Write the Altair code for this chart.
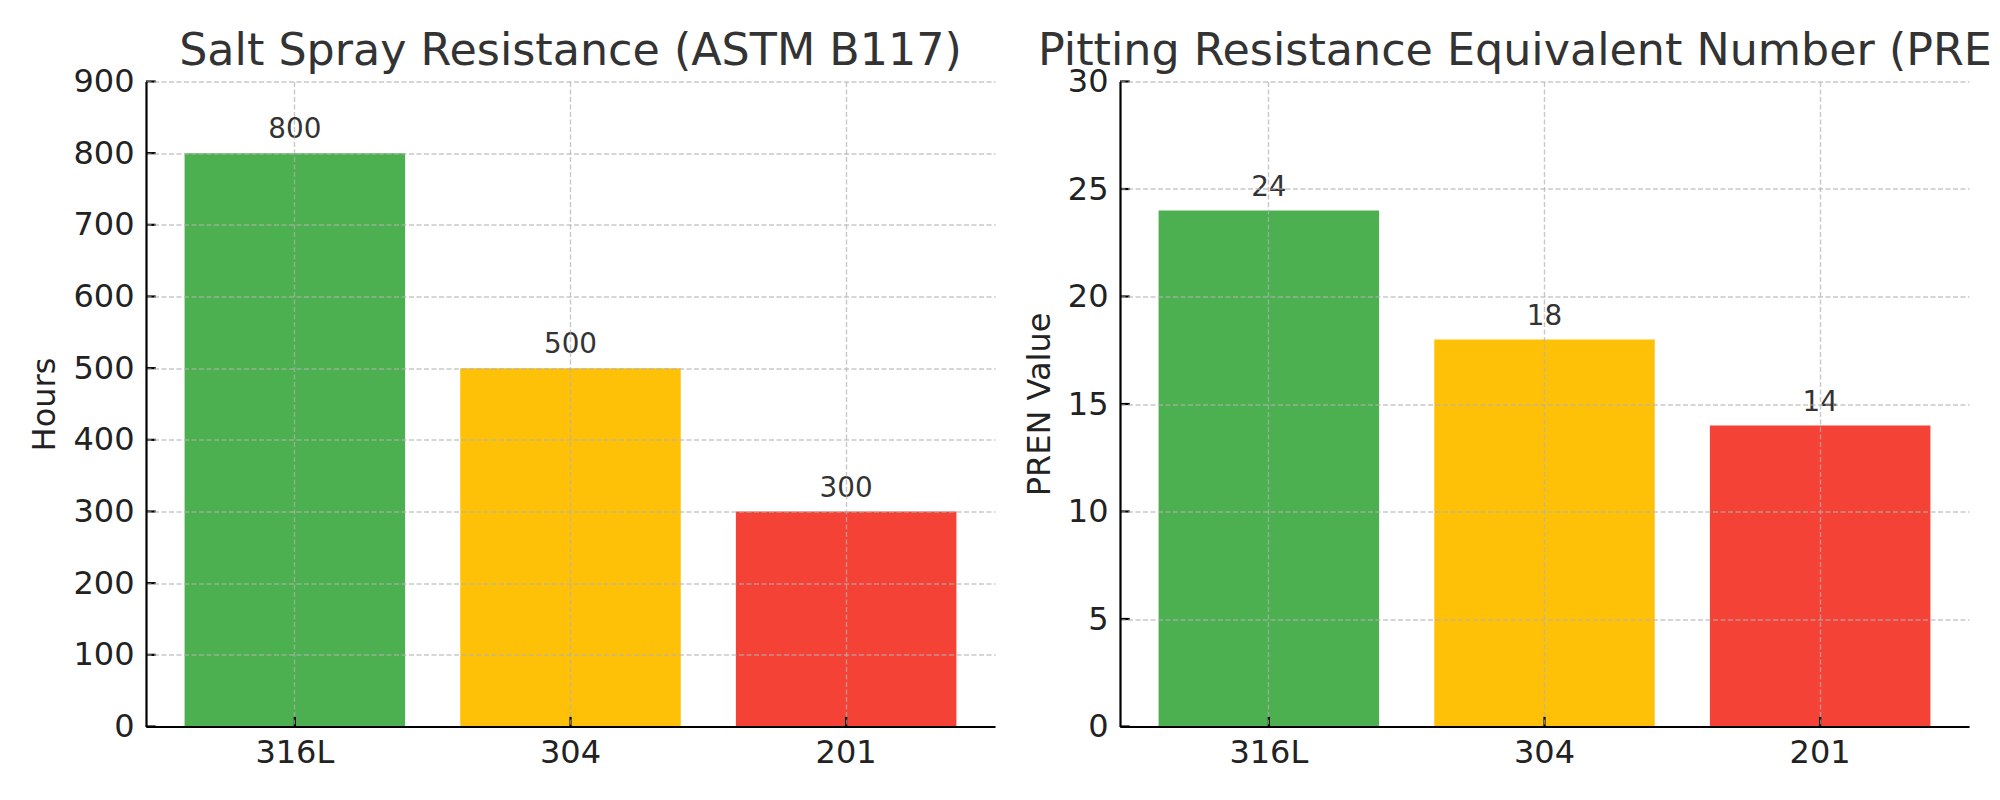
import altair as alt
import pandas as pd

# ---- data ----
materials = ["316L", "304", "201"]
salt_hours = [800, 500, 300]
pren_values = [24, 18, 14]
bar_colors = ["#4CAF50", "#FFC107", "#F44336"]
hours_ticks = [0, 100, 200, 300, 400, 500, 600, 700, 800, 900]
pren_ticks = [0, 5, 10, 15, 20, 25, 30]
title_left = "Salt Spray Resistance (ASTM B117)"
title_right = "Pitting Resistance Equivalent Number (PREN)"
ytitle_left = "Hours"
ytitle_right = "PREN Value"

W, H = 849, 645
FONT = "DejaVu Sans"
TICK_LEN = 9.7
LINE_W = 2.2


def panel(values, ticks, ymax, ytitle, title, title_x, title_align, title_limit):
    df = pd.DataFrame({"Material": materials, "Value": values, "Color": bar_colors})
    tick_df = pd.DataFrame({"Value": ticks})

    x = alt.X(
        "Material:N",
        sort=materials,
        scale=alt.Scale(paddingInner=0.2, paddingOuter=0.14),
        axis=alt.Axis(title=None, labelAngle=0, grid=True, ticks=False, tickSize=0,
                      bandPosition=0.5, labelPadding=10.5, zindex=1),
    )
    y = alt.Y(
        "Value:Q",
        scale=alt.Scale(domain=[0, ymax], nice=False, zero=True),
        axis=alt.Axis(values=ticks, title=ytitle, grid=True, ticks=False, tickSize=0,
                      labelPadding=12, titlePadding=11, zindex=1),
    )
    base = alt.Chart(df)
    bars = base.mark_bar().encode(x=x, y=y, color=alt.Color("Color:N", scale=None))
    labels = base.mark_text(
        baseline="alphabetic", dy=-14.7, fontSize=27.8, color="#333333", font=FONT
    ).encode(x=x, y=y, text=alt.Text("Value:Q"))
    ytick = alt.Chart(tick_df).mark_rule(color="black", strokeWidth=LINE_W).encode(
        y=y, x=alt.value(0), x2=alt.value(TICK_LEN)
    )
    xtick = base.mark_rule(color="black", strokeWidth=LINE_W).encode(
        x=x, y=alt.value(H), y2=alt.value(H - TICK_LEN)
    )
    ttl = alt.Chart(pd.DataFrame({"t": [title]})).mark_text(
        align=title_align, baseline="alphabetic", fontSize=44.4, color="#333333",
        font=FONT, limit=title_limit, ellipsis="\u200b"
    ).encode(text="t:N", x=alt.value(title_x), y=alt.value(-17))
    return alt.layer(bars, xtick, ytick, labels, ttl).properties(width=W, height=H)


left = panel(salt_hours, hours_ticks, 900, ytitle_left, title_left, W / 2, "center", 2000)
right = panel(pren_values, pren_ticks, 30, ytitle_right, title_right, -82, "left", 958)

chart = (
    alt.hconcat(left, right, spacing=125, bounds="flush")
    .properties(padding={"left": 20, "top": 20.5, "right": 0, "bottom": 5})
    .configure_view(stroke=None)
    .configure_axis(
        labelFont=FONT, labelFontSize=32, labelColor="#222222",
        titleFont=FONT, titleFontSize=32, titleColor="#222222", titleFontWeight="normal",
        domainColor="black", domainWidth=LINE_W,
        gridColor="#b0b0b0", gridOpacity=0.7, gridDash=[5, 2.5], gridWidth=1.4,
    )
)

chart.save("out.html", embed_options={"renderer": "svg", "actions": False})
